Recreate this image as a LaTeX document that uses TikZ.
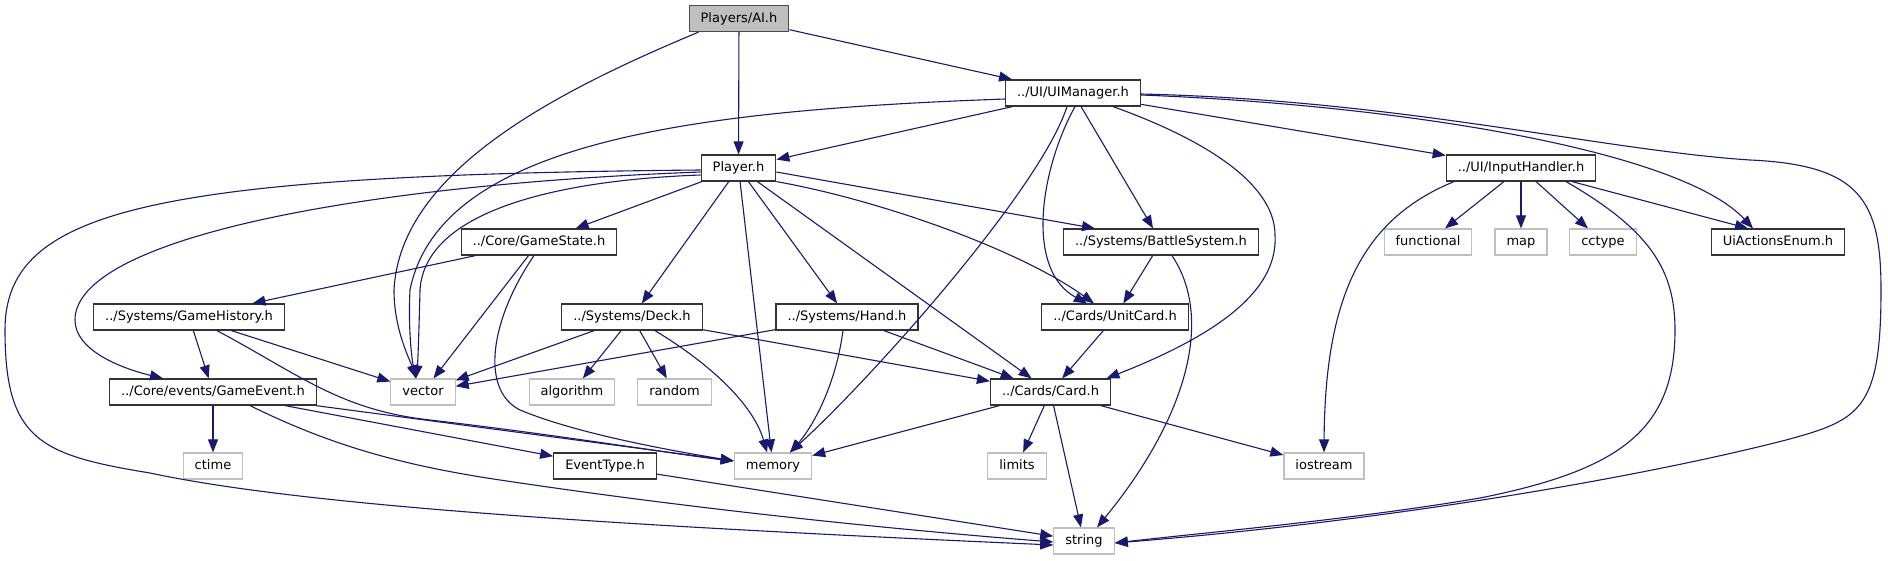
\documentclass[tikz,border=0pt]{standalone}
\usepackage{fontspec}
\setmainfont{DejaVu Sans}
\usetikzlibrary{arrows.meta}
\definecolor{edgeblue}{HTML}{191970}
\definecolor{sysgray}{HTML}{BFBFBF}
\definecolor{rootgray}{HTML}{BFBFBF}
\tikzset{
  incbox/.style={
    draw=black!80, line width=1.2pt, fill=white,
    minimum height=26pt, inner xsep=11.5pt, inner ysep=0pt,
    text height=9.5pt, text depth=2.5pt,
    font=\fontsize{13}{15}\selectfont
  },
  sysbox/.style={incbox, draw=sysgray},
  rootbox/.style={incbox, fill=rootgray, draw=black!70},
  incarrow/.style={-{Triangle[length=13pt,width=10pt]}, draw=edgeblue, line width=1.1pt},
}

\begin{document}
\begin{tikzpicture}[x=1pt, y=-1pt]
  \fill[white] (0,0) rectangle (1888,560);
  \useasboundingbox (0,0) rectangle (1888,560);

  % Row 0 / 1
  \node[rootbox] (ai) at (739,18.5) {Players/AI.h};
  \node[incbox] (uimgr) at (1073,93) {../UI/UIManager.h};

  % Row 2
  \node[incbox] (player) at (738.5,168) {Player.h};
  \node[incbox] (inhandler) at (1521,168) {../UI/InputHandler.h};

  % Row 3
  \node[incbox] (gstate) at (539,242) {../Core/GameState.h};
  \node[incbox] (battle) at (1161,242) {../Systems/BattleSystem.h};
  \node[sysbox] (functional) at (1428,242) {functional};
  \node[sysbox] (map) at (1521,242) {map};
  \node[sysbox] (cctype) at (1603,242) {cctype};
  \node[incbox] (uienum) at (1778,242) {UiActionsEnum.h};

  % Row 4
  \node[incbox] (ghist) at (189,317) {../Systems/GameHistory.h};
  \node[incbox] (deck) at (632,317) {../Systems/Deck.h};
  \node[incbox] (hand) at (847,317) {../Systems/Hand.h};
  \node[incbox] (unitcard) at (1115,317) {../Cards/UnitCard.h};

  % Row 5
  \node[incbox] (gevent) at (213,392) {../Core/events/GameEvent.h};
  \node[sysbox] (vector) at (423,392) {vector};
  \node[sysbox] (algorithm) at (572,392) {algorithm};
  \node[sysbox] (random) at (674.5,392) {random};
  \node[incbox] (card) at (1050.5,392) {../Cards/Card.h};

  % Row 6 / 7
  \node[sysbox] (ctime) at (213,466) {ctime};
  \node[incbox] (etype) at (605,466) {EventType.h};
  \node[sysbox] (memory) at (773,466) {memory};
  \node[sysbox] (limits) at (1017,466) {limits};
  \node[sysbox] (iostream) at (1324,466) {iostream};
  \node[sysbox] (string) at (1084,541) {string};

  % Players/AI.h
  \draw[incarrow] (ai) -- (player);
  \draw[incarrow] (ai) -- (uimgr);
  \draw[incarrow] ([xshift=10pt]ai.south west) .. controls (560,90) and (400,170) .. (394,290)
    .. controls (394,330) and (410,360) .. ([xshift=-7pt]vector.north);

  % UIManager.h
  \draw[incarrow] (uimgr) -- (player);
  \draw[incarrow] ([yshift=-6pt]uimgr.west) .. controls (700,110) and (440,140) .. (410,290)
    .. controls (408,330) and (412,360) .. ([xshift=-7pt]vector.north);
  \draw[incarrow] ([xshift=-6pt]uimgr.south) .. controls (1040,190) and (870,380) .. ([xshift=17pt]memory.north);
  \draw[incarrow] ([xshift=2pt]uimgr.south) .. controls (1040,170) and (1025,270) .. ([xshift=-28pt]unitcard.north);
  \draw[incarrow] (uimgr) -- (battle);
  \draw[incarrow] ([xshift=40pt]uimgr.south) .. controls (1220,145) and (1275,190) .. (1275,235)
    .. controls (1278,285) and (1230,330) .. ([xshift=56pt]card.north);
  \draw[incarrow] (uimgr) -- (inhandler);
  \draw[incarrow] ([yshift=-2pt]uimgr.east) .. controls (1400,105) and (1680,150) .. ([xshift=-25pt]uienum.north);
  \draw[incarrow] ([yshift=-1pt]uimgr.east) .. controls (1400,100) and (1600,150) .. (1750,160)
    .. controls (1860,165) and (1881,200) .. (1881,290)
    .. controls (1881,410) and (1860,420) .. (1786,440)
    .. controls (1650,475) and (1400,520) .. ([yshift=-2pt]string.east);

  % Player.h
  \draw[incarrow] ([yshift=-2pt]player.west) .. controls (150,175) and (5,210) .. (5,330)
    .. controls (5,440) and (40,455) .. (150,473)
    .. controls (300,505) and (600,525) .. ([yshift=-4pt]string.west);
  \draw[incarrow] ([yshift=-4pt]player.west) .. controls (350,185) and (75,240) .. (75,320)
    .. controls (75,350) and (120,368) .. ([xshift=-50pt]gevent.north);
  \draw[incarrow] ([yshift=-7pt]player.west) .. controls (560,180) and (425,210) .. (420,290)
    .. controls (419,330) and (418,360) .. ([xshift=-7pt]vector.north);
  \draw[incarrow] (player) -- (gstate);
  \draw[incarrow] (player) -- (deck);
  \draw[incarrow] (player) -- (memory);
  \draw[incarrow] (player) -- (hand);
  \draw[incarrow] (player) -- (card);
  \draw[incarrow] (player.south east) .. controls (880,200) and (1020,250) .. ([xshift=-21pt]unitcard.north);
  \draw[incarrow] ([yshift=-4pt]player.east) -- ([xshift=-66pt]battle.north);

  % GameState.h
  \draw[incarrow] (gstate) -- (ghist);
  \draw[incarrow] (gstate) -- (vector);
  \draw[incarrow] ([xshift=-5pt]gstate.south) .. controls (490,320) and (480,390) .. (520,410)
    .. controls (580,435) and (680,452) .. ([yshift=5pt]memory.west);

  % GameHistory.h
  \draw[incarrow] (ghist) -- (gevent);
  \draw[incarrow] (ghist) -- (vector);
  \draw[incarrow] ([xshift=28pt]ghist.south) .. controls (300,375) and (340,410) .. (430,420)
    .. controls (560,435) and (680,455) .. ([yshift=5pt]memory.west);

  % GameEvent.h
  \draw[incarrow] (gevent) -- (ctime);
  \draw[incarrow] (gevent) -- (etype);
  \draw[incarrow] (gevent) -- (memory);
  \draw[incarrow] ([xshift=37pt]gevent.south) .. controls (330,445) and (400,465) .. (500,480)
    .. controls (700,510) and (900,530) .. ([yshift=-1pt]string.west);
  \draw[incarrow] (etype) -- (string);

  % Deck.h / Hand.h
  \draw[incarrow] (deck) -- (vector);
  \draw[incarrow] (deck) -- (algorithm);
  \draw[incarrow] (deck) -- (random);
  \draw[incarrow] ([xshift=23pt]deck.south) .. controls (720,370) and (755,410) .. ([xshift=-6pt]memory.north);
  \draw[incarrow] (deck) -- (card);
  \draw[incarrow] (hand) -- (vector);
  \draw[incarrow] ([xshift=-4pt]hand.south) .. controls (835,390) and (810,430) .. ([xshift=17pt]memory.north);
  \draw[incarrow] (hand) -- (card);

  % BattleSystem.h / UnitCard.h / Card.h
  \draw[incarrow] (battle) -- (unitcard);
  \draw[incarrow] ([xshift=11pt]battle.south) .. controls (1215,320) and (1185,420) .. ([xshift=13pt]string.north);
  \draw[incarrow] (unitcard) -- (card);
  \draw[incarrow] (card) -- (memory);
  \draw[incarrow] (card) -- (limits);
  \draw[incarrow] (card) -- (string);
  \draw[incarrow] (card) -- (iostream);

  % InputHandler.h
  \draw[incarrow] (inhandler) -- (functional);
  \draw[incarrow] (inhandler) -- (map);
  \draw[incarrow] (inhandler) -- (cctype);
  \draw[incarrow] (inhandler) -- ([xshift=-30pt]uienum.north);
  \draw[incarrow] ([xshift=-67pt]inhandler.south) .. controls (1360,220) and (1325,300) .. (iostream.north);
  \draw[incarrow] ([xshift=45pt]inhandler.south) .. controls (1650,230) and (1675,270) .. (1675,330)
    .. controls (1675,430) and (1620,470) .. (1480,498)
    .. controls (1350,520) and (1200,533) .. ([yshift=-2pt]string.east);
\end{tikzpicture}
\end{document}
